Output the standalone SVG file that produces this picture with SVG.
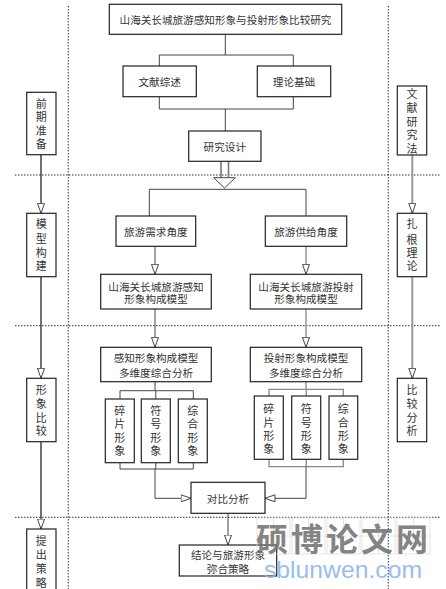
<svg xmlns="http://www.w3.org/2000/svg" width="446" height="589" viewBox="0 0 446 589">
<style>
.box{fill:#fff;stroke:#222;stroke-width:1.2}
.t{font-family:"Noto Sans CJK SC","Liberation Sans",sans-serif;font-size:10.6px;fill:#333;text-anchor:middle;dominant-baseline:central}
.v{font-family:"Noto Sans CJK SC","Liberation Sans",sans-serif;font-size:11px;fill:#333;text-anchor:middle;dominant-baseline:central}
.ln{fill:none;stroke:#444;stroke-width:1}
.lg{fill:none;stroke:#888;stroke-width:1.3}
.dot{fill:none;stroke:#333;stroke-width:1;stroke-dasharray:1.5 1.5}
</style>
<defs>
<marker id="ah" markerUnits="userSpaceOnUse" markerWidth="12" markerHeight="9" refX="10.5" refY="4" orient="auto">
<path d="M0.5,0.5 L10.5,4 L0.5,7.5 Z" fill="#fff" stroke="#444" stroke-width="1"/>
</marker>
</defs>
<rect width="446" height="589" fill="#fff"/>
<g id="grid">
<line class="dot" x1="68.3" y1="6" x2="68.3" y2="589"/>
<line class="dot" x1="388.3" y1="6" x2="388.3" y2="589"/>
<line class="dot" x1="15" y1="175" x2="440" y2="175"/>
<line class="dot" x1="15" y1="325.7" x2="440" y2="325.7"/>
<line class="dot" x1="15" y1="517.3" x2="440" y2="517.3"/>
</g>
<g id="connectors">
<path class="ln" d="M225.3,34.3 V55 M159.3,66 V55 H293.3 V66"/>
<path class="ln" d="M159.3,96.7 V109 H293.3 V96.7 M225.3,109 V131"/>
<path d="M221,161.3 V177.5 M228.5,161.3 V177.5" fill="none" stroke="#777" stroke-width="1.6"/>
<path d="M213.7,177.7 H235.3 L224.5,188 Z" fill="#fff" stroke="#444" stroke-width="1"/>
<path class="ln" d="M149.3,216 V189.3 H306 V216"/>
<path class="ln" d="M155,246.3 V274.3" marker-end="url(#ah)"/>
<path class="lg" d="M306,246.3 V274.3" marker-end="url(#ah)"/>
<path class="ln" d="M155,309 V347.3" marker-end="url(#ah)"/>
<path class="lg" d="M306,309 V347.3" marker-end="url(#ah)"/>
<path class="ln" d="M155,381.7 V390.7 M120,399 V390.7 H193.3 V399 M155.8,390.7 V399"/>
<path class="ln" d="M120,462.7 V469 H193.3 V462.7 M155.8,462.7 V469"/>
<path class="lg" d="M306,381.7 V389.3 M269,396 V389.3 H343.3 V396 M306.2,389.3 V396"/>
<path class="lg" d="M269,459.3 V466.7 H343.3 V459.3 M306.2,459.3 V466.7"/>
<path class="ln" d="M155,469 V498.3 H191" marker-end="url(#ah)"/>
<path class="ln" d="M306,466.7 V498.3 H265" marker-end="url(#ah)"/>
<path class="ln" d="M228,513.3 V545" marker-end="url(#ah)"/>
<path d="M41,154.7 V213.3" fill="none" stroke="#111" stroke-width="1.2" marker-end="url(#ah)"/>
<path d="M41,276.7 V378.3" fill="none" stroke="#111" stroke-width="1.2" marker-end="url(#ah)"/>
<path d="M41,441.7 V529" fill="none" stroke="#111" stroke-width="1.2" marker-end="url(#ah)"/>
<path d="M412.3,155 V213.3" fill="none" stroke="#999" stroke-width="2" marker-end="url(#ah)"/>
<path d="M412.3,276.7 V378.3" fill="none" stroke="#999" stroke-width="2" marker-end="url(#ah)"/>
</g>
<g id="n-title"><rect class="box" x="109.3" y="4.3" width="232.4" height="30"/><text class="t" x="225.5" y="19.5">山海关长城旅游感知形象与投射形象比较研究</text></g>
<g id="n-wxzs"><rect class="box" x="123" y="66" width="73.3" height="30.7"/><text class="t" x="159.7" y="81.3">文献综述</text></g>
<g id="n-lljc"><rect class="box" x="257.3" y="66" width="73.4" height="30.7"/><text class="t" x="294" y="81.3">理论基础</text></g>
<g id="n-yjsj"><rect class="box" x="188.7" y="131" width="72.3" height="30.3"/><text class="t" x="224.8" y="146">研究设计</text></g>
<g id="n-xq"><rect class="box" x="116" y="216" width="79.7" height="30.3"/><text class="t" x="155.8" y="231.5">旅游需求角度</text></g>
<g id="n-gj"><rect class="box" x="265.3" y="216" width="81.4" height="30.3"/><text class="t" x="306" y="231.5">旅游供给角度</text></g>
<g id="n-gzmx"><rect class="box" x="100.7" y="274.3" width="110.6" height="34.7"/><text class="t"><tspan x="156" y="285.5">山海关长城旅游感知</tspan><tspan x="156" y="298.4">形象构成模型</tspan></text></g>
<g id="n-tsmx"><rect class="box" x="250.3" y="274.3" width="111.4" height="34.7"/><text class="t"><tspan x="306" y="285.5">山海关长城旅游投射</tspan><tspan x="306" y="298.4">形象构成模型</tspan></text></g>
<g id="n-gzfx"><rect class="box" x="100.7" y="347.3" width="110.6" height="34.4"/><text class="t"><tspan x="156" y="357">感知形象构成模型</tspan><tspan x="156" y="371.7">多维度综合分析</tspan></text></g>
<g id="n-tsfx"><rect class="box" x="250.3" y="347.3" width="111.4" height="34.4"/><text class="t"><tspan x="306" y="357">投射形象构成模型</tspan><tspan x="306" y="371.7">多维度综合分析</tspan></text></g>
<g id="n-l1"><rect class="box" x="105.3" y="399" width="29" height="63.7"/><text class="v"><tspan x="119.8" y="410">碎</tspan><tspan x="119.8" y="423.3">片</tspan><tspan x="119.8" y="436.7">形</tspan><tspan x="119.8" y="450">象</tspan></text></g>
<g id="n-l2"><rect class="box" x="141.3" y="399" width="29" height="63.7"/><text class="v"><tspan x="155.8" y="410">符</tspan><tspan x="155.8" y="423.3">号</tspan><tspan x="155.8" y="436.7">形</tspan><tspan x="155.8" y="450">象</tspan></text></g>
<g id="n-l3"><rect class="box" x="178.3" y="399" width="29" height="63.7"/><text class="v"><tspan x="192.8" y="410">综</tspan><tspan x="192.8" y="423.3">合</tspan><tspan x="192.8" y="436.7">形</tspan><tspan x="192.8" y="450">象</tspan></text></g>
<g id="n-r1"><rect class="box" x="254.3" y="396" width="29" height="63.3"/><text class="v"><tspan x="268.8" y="408.3">碎</tspan><tspan x="268.8" y="421.7">片</tspan><tspan x="268.8" y="435">形</tspan><tspan x="268.8" y="448.3">象</tspan></text></g>
<g id="n-r2"><rect class="box" x="291.7" y="396" width="29" height="63.3"/><text class="v"><tspan x="306.2" y="408.3">符</tspan><tspan x="306.2" y="421.7">号</tspan><tspan x="306.2" y="435">形</tspan><tspan x="306.2" y="448.3">象</tspan></text></g>
<g id="n-r3"><rect class="box" x="329" y="396" width="28.7" height="63.3"/><text class="v"><tspan x="343.3" y="408.3">综</tspan><tspan x="343.3" y="421.7">合</tspan><tspan x="343.3" y="435">形</tspan><tspan x="343.3" y="448.3">象</tspan></text></g>
<g id="n-dbfx"><rect class="box" x="191" y="482.3" width="74" height="31"/><text class="t" x="228" y="498">对比分析</text></g>
<g id="n-jl"><rect class="box" x="179.3" y="545" width="97.4" height="31"/><text class="t"><tspan x="228" y="554.3">结论与旅游形象</tspan><tspan x="228" y="567.7">弥合策略</tspan></text></g>
<g id="n-qqzb"><rect class="box" x="26.7" y="92.3" width="29.3" height="62.4"/><text class="v"><tspan x="41.3" y="102.5">前</tspan><tspan x="41.3" y="116">期</tspan><tspan x="41.3" y="129.5">准</tspan><tspan x="41.3" y="143">备</tspan></text></g>
<g id="n-mxgj"><rect class="box" x="26.7" y="213.3" width="29.3" height="63.4"/><text class="v"><tspan x="41.3" y="223.3">模</tspan><tspan x="41.3" y="238.3">型</tspan><tspan x="41.3" y="251.7">构</tspan><tspan x="41.3" y="265">建</tspan></text></g>
<g id="n-xxbj"><rect class="box" x="26.7" y="378.3" width="29.3" height="63.4"/><text class="v"><tspan x="41.3" y="389.3">形</tspan><tspan x="41.3" y="403.3">象</tspan><tspan x="41.3" y="417.3">比</tspan><tspan x="41.3" y="430">较</tspan></text></g>
<g id="n-tccl"><rect class="box" x="26.7" y="529" width="29.3" height="70"/><text class="v"><tspan x="41.3" y="540">提</tspan><tspan x="41.3" y="554.3">出</tspan><tspan x="41.3" y="567.7">策</tspan><tspan x="41.3" y="581.7">略</tspan></text></g>
<g id="n-wxyjf"><rect class="box" x="397.3" y="86" width="29.4" height="69"/><text class="v"><tspan x="412" y="93">文</tspan><tspan x="412" y="107">献</tspan><tspan x="412" y="120.5">研</tspan><tspan x="412" y="134">究</tspan><tspan x="412" y="147.5">法</tspan></text></g>
<g id="n-zgll"><rect class="box" x="397.3" y="213.3" width="29.4" height="63.4"/><text class="v"><tspan x="412" y="223.3">扎</tspan><tspan x="412" y="239">根</tspan><tspan x="412" y="251.7">理</tspan><tspan x="412" y="265">论</tspan></text></g>
<g id="n-bjfx"><rect class="box" x="397.3" y="378.3" width="29.4" height="63.4"/><text class="v"><tspan x="412" y="389.3">比</tspan><tspan x="412" y="403.3">较</tspan><tspan x="412" y="417.3">分</tspan><tspan x="412" y="430">析</tspan></text></g>
<g id="watermark" opacity="0.9">
<g fill="none" stroke="#ddd" stroke-width="0.8">
<rect x="257" y="518" width="33" height="36"/><rect x="292" y="518" width="33" height="36"/><rect x="327" y="518" width="33" height="36"/><rect x="362" y="518" width="33" height="36"/><rect x="397" y="518" width="33" height="36"/>
<path d="M273.5,518 V554 M308.5,518 V554 M343.5,518 V554 M378.5,518 V554 M413.5,518 V554 M257,536 H430"/>
</g>
<text x="343.5" y="537" font-family="'Noto Sans CJK SC', sans-serif" font-size="32" font-weight="700" fill="#777" text-anchor="middle" dominant-baseline="central" letter-spacing="3">硕博论文网</text>
<text x="264" y="578" font-family="'Liberation Sans', sans-serif" font-size="24.5" fill="#8fb6ea" textLength="158" lengthAdjust="spacingAndGlyphs">sblunwen.com</text>
</g>
</svg>
